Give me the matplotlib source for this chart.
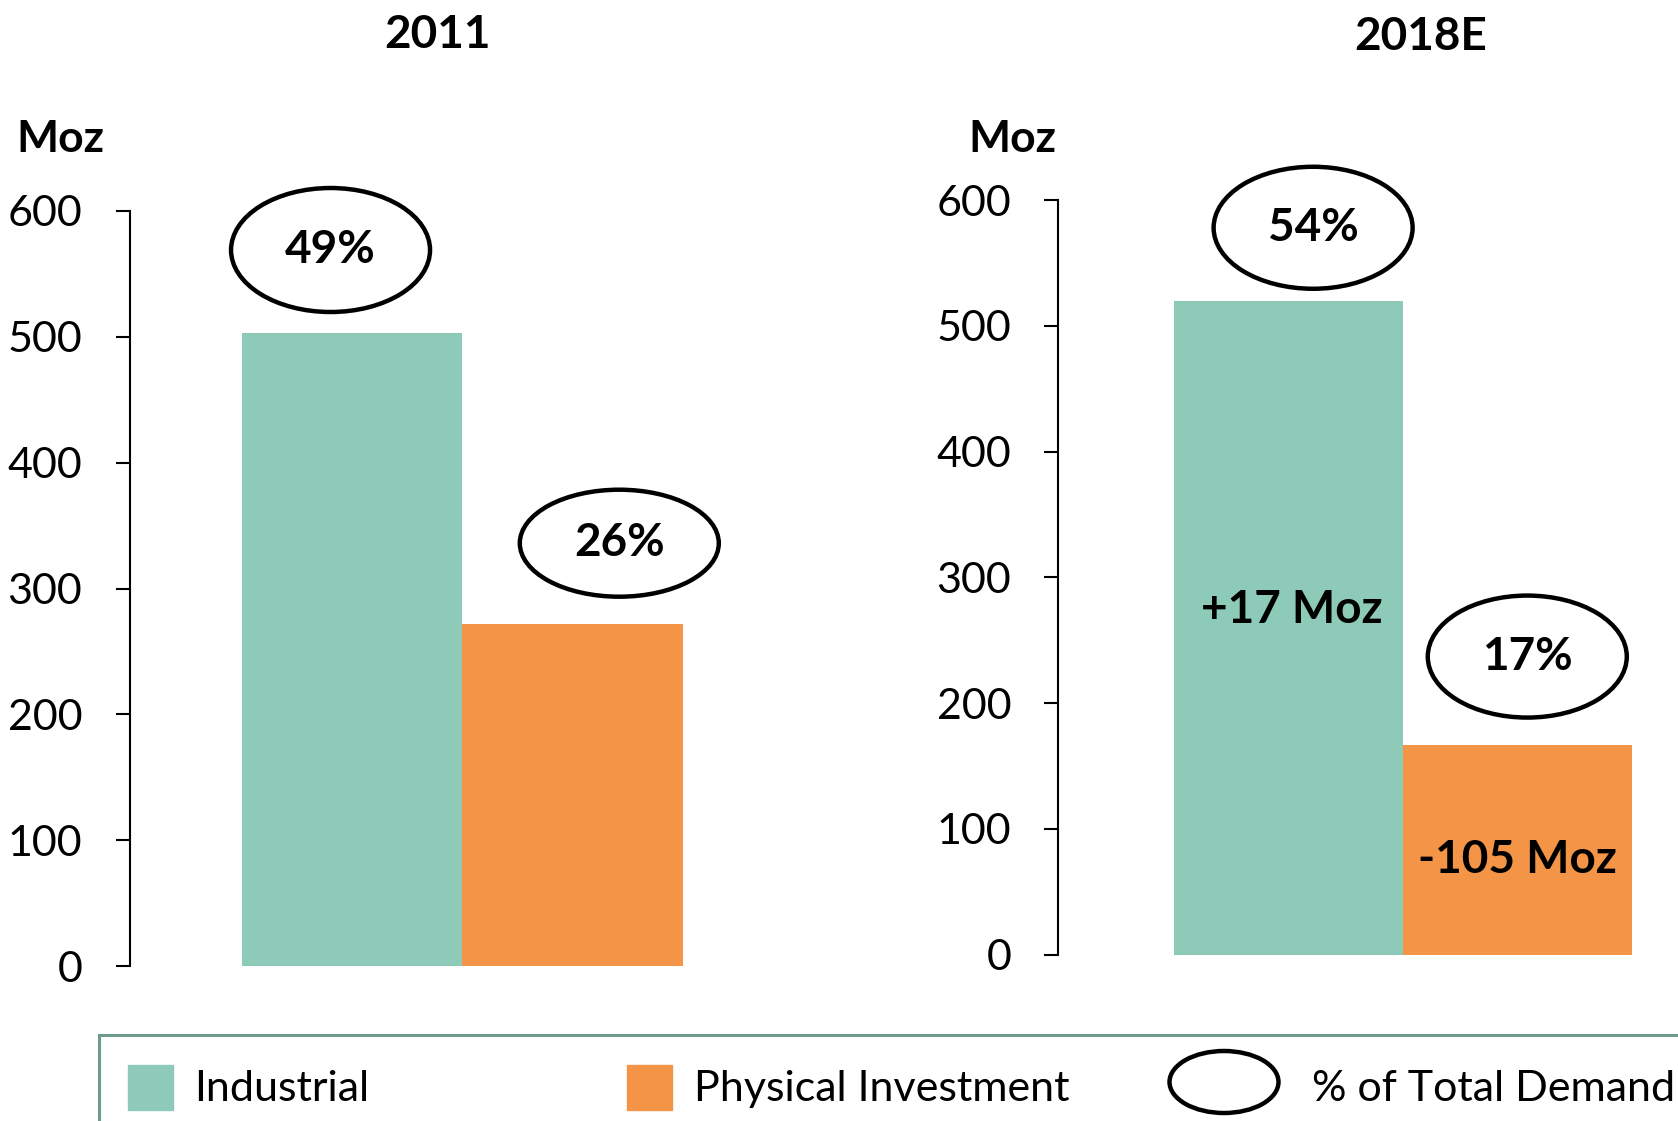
import numpy as np
import matplotlib
matplotlib.use('Agg')
import matplotlib.pyplot as plt
from matplotlib.patches import Ellipse, Rectangle
from matplotlib.transforms import ScaledTranslation

# Data (Moz)
categories = ['Industrial', 'Physical Investment']
panel_titles = ['2011', '2018E']
values_2011 = [503, 272]
values_2018 = [520, 167]
share_2011 = ['49%', '26%']
share_2018 = ['54%', '17%']
change_2018 = ['+17 Moz', '-105 Moz']
y_ticks = [0, 100, 200, 300, 400, 500, 600]

colors = ['#8DCBB8', '#F39447']
frame_color = '#6F9B8B'

plt.rcParams['font.family'] = ['Lato', 'DejaVu Sans']

W, H = 1678, 1121
fig = plt.figure(figsize=(W / 100, H / 100), dpi=100)


def fx(x):
    return x / W


def fy(y):
    return 1 - y / H


# axes placement (pixels of the reference)
panels = [
    dict(values=values_2011, shares=share_2011, changes=None,
         rect=[fx(129.5), fy(966), fx(793 - 129.5), (966 - 211) / H],
         xlim=(-1.01, 2.0),
         ell_dx=[-0.098, 0.212], ell_dy=[66, 64], ell_h=[1.24, 1.07],
         title_xy=(437.7, 35), moz_xy=(16, 139)),
    dict(values=values_2018, shares=share_2018, changes=change_2018,
         rect=[fx(1058.4), fy(954.6), fx(1678 - 1058.4), (954.6 - 200.1) / H],
         xlim=(-1.005, 1.7),
         ell_dx=[0.107, 0.042], ell_dy=[58, 70], ell_h=[1.22, 1.22],
         chg_dx=[0.014, 0.0], chg_y=[274, 75],
         title_xy=(1421, 37), moz_xy=(968, 139)),
]

for i, p in enumerate(panels):
    ax = fig.add_axes(p['rect'])
    x = np.arange(len(categories))
    ax.bar(x, p['values'], width=1.0, color=colors, zorder=1)
    ax.set_xlim(*p['xlim'])
    ax.set_ylim(0, 600)
    ax.set_yticks(y_ticks)
    ax.tick_params(axis='y', length=10, width=1.5, pad=24, labelsize=31)
    ax.set_xticks([])
    for s in ['top', 'right', 'bottom']:
        ax.spines[s].set_visible(False)
    ax.spines['left'].set_linewidth(1.5)

    # % of total demand ellipses
    for j, v in enumerate(p['values']):
        cx = x[j] + p['ell_dx'][j]
        cy = v + p['ell_dy'][j]
        tr = fig.dpi_scale_trans + ScaledTranslation(cx, cy, ax.transData)
        ax.add_patch(Ellipse((0, 0), 1.99, p['ell_h'][j], transform=tr,
                             facecolor='white', edgecolor='black', lw=3.2,
                             zorder=3, clip_on=False))
        ax.text(cx, cy, p['shares'][j], ha='center', va='center',
                fontsize=33, fontweight='bold', zorder=4)

    if p['changes']:
        for j, t in enumerate(p['changes']):
            ax.text(x[j] + p['chg_dx'][j], p['chg_y'][j], t, ha='center',
                    va='center', fontsize=33, fontweight='bold', zorder=4)

    fig.text(fx(p['title_xy'][0]), fy(p['title_xy'][1]), panel_titles[i],
             ha='center', va='center', fontsize=33, fontweight='bold')
    fig.text(fx(p['moz_xy'][0]), fy(p['moz_xy'][1]), 'Moz',
             ha='left', va='center', fontsize=32, fontweight='bold')

# legend drawn by hand (frame runs off the figure edge)
fig.add_artist(Rectangle((fx(98.5), -0.1), 1.2, (H - 1035) / H + 0.1,
                         transform=fig.transFigure, fill=False,
                         edgecolor=frame_color, lw=2.2))
sq = 45
for k, (lx, tx) in enumerate([(128.4, 193.7), (627, 693.5)]):
    fig.add_artist(Rectangle((fx(lx), fy(1110)), sq / W, sq / H,
                             transform=fig.transFigure, color=colors[k]))
    fig.text(fx(tx), fy(1089), categories[k], ha='left', va='center',
             fontsize=31)
fig.add_artist(Ellipse((fx(1224), fy(1082)), 109 / W, 62 / H,
                       transform=fig.transFigure, fill=False,
                       edgecolor='black', lw=3.2))
fig.text(fx(1312), fy(1089), '% of Total Demand', ha='left', va='center',
         fontsize=31)

fig.savefig('out.png', dpi=100)
